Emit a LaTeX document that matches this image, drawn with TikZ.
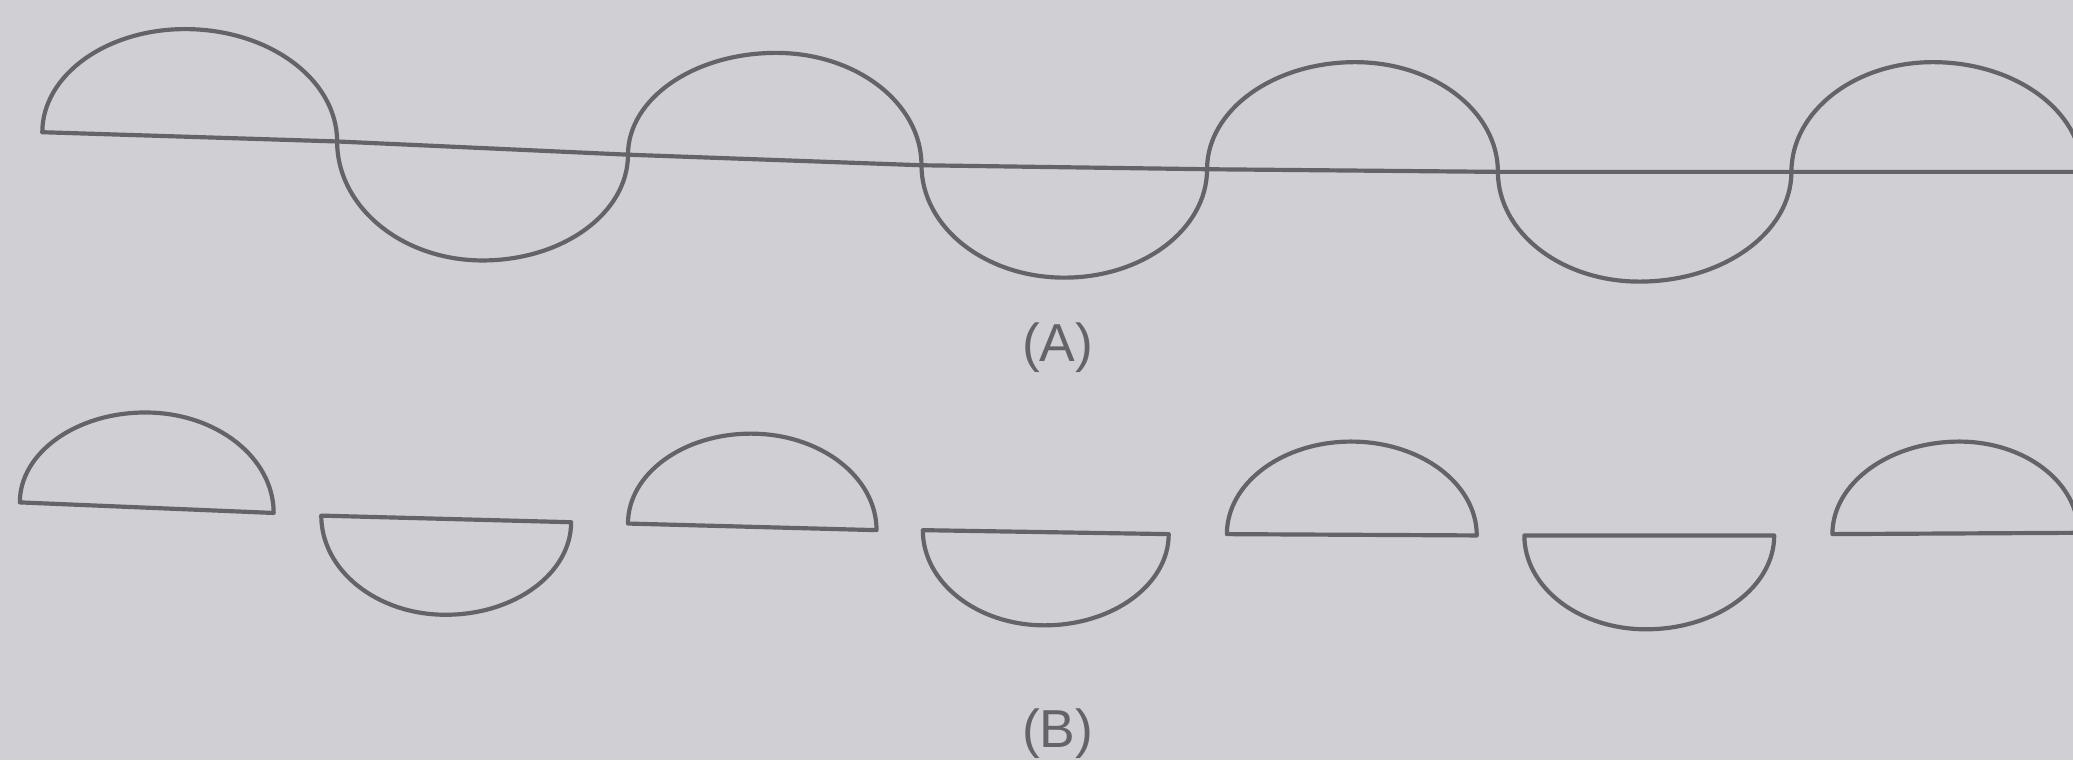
\documentclass[tikz,border=0pt]{standalone}
\usepackage{fontspec}
\setmainfont{Liberation Sans}
\usetikzlibrary{calc}
\definecolor{paper}{RGB}{208,207,212}
\definecolor{pencil}{RGB}{100,99,104}
\begin{document}
\begin{tikzpicture}[x=0.02cm,y=-0.02cm,
  stroke/.style={draw=pencil,line width=1.8pt,line join=round,line cap=round},
  half/.style n args={3}{insert path={.. controls ($(#1)!0.552!(#1|-#2)$) and ($(#2)!0.552!(#1|-#2)$) .. (#2) .. controls ($(#2)!0.552!(#3|-#2)$) and ($(#3)!0.552!(#3|-#2)$) .. (#3)}},
  lbl/.style={text=pencil,font=\fontsize{23}{26}\selectfont,inner sep=0pt}]
\fill[paper] (0,0) rectangle (1568,575);
\useasboundingbox (0,0) rectangle (1568,575);
\clip (0,0) rectangle (1568,575);
% ---- (A) wave ----
\coordinate (P0) at (32,100);
\coordinate (P1) at (255,107);
\coordinate (P2) at (475,117);
\coordinate (P3) at (697,125);
\coordinate (P4) at (913,128);
\coordinate (P5) at (1133,130);
\coordinate (P6) at (1355,130);
\coordinate (P7) at (1575,130);
\coordinate (T1) at (140,22);
\coordinate (B1) at (365,197);
\coordinate (T2) at (587,40);
\coordinate (B2) at (805,210);
\coordinate (T3) at (1025,47);
\coordinate (B3) at (1240,213);
\coordinate (T4) at (1462,47);
\draw[stroke] (P0) -- (P1) -- (P2) -- (P3) -- (P4) -- (P5) -- (P6) -- (P7);
\draw[stroke] (P0) [half={P0}{T1}{P1}] [half={P1}{B1}{P2}] [half={P2}{T2}{P3}]
  [half={P3}{B2}{P4}] [half={P4}{T3}{P5}] [half={P5}{B3}{P6}] [half={P6}{T4}{P7}];
\node[lbl] (la) at (800,263) {(A)};
% ---- (B) separate halves ----
\coordinate (L1) at (15,380);   \coordinate (R1) at (207,388);  \coordinate (E1) at (110,312);
\coordinate (L2) at (243,390);  \coordinate (R2) at (432,395);  \coordinate (E2) at (337,465);
\coordinate (L3) at (475,396);  \coordinate (R3) at (663,401);  \coordinate (E3) at (568,328);
\coordinate (L4) at (698,401);  \coordinate (R4) at (884,404);  \coordinate (E4) at (790,473);
\coordinate (L5) at (928,404);  \coordinate (R5) at (1117,405); \coordinate (E5) at (1022,334);
\coordinate (L6) at (1153,405); \coordinate (R6) at (1342,405); \coordinate (E6) at (1245,476);
\coordinate (L7) at (1386,404); \coordinate (R7) at (1572,403); \coordinate (E7) at (1482,334);
\foreach \i in {1,...,7}{
  \draw[stroke] (L\i) [half={L\i}{E\i}{R\i}] -- cycle;
}
\node[lbl] (lb) at (800,555) {(B)};
\end{tikzpicture}
\end{document}
